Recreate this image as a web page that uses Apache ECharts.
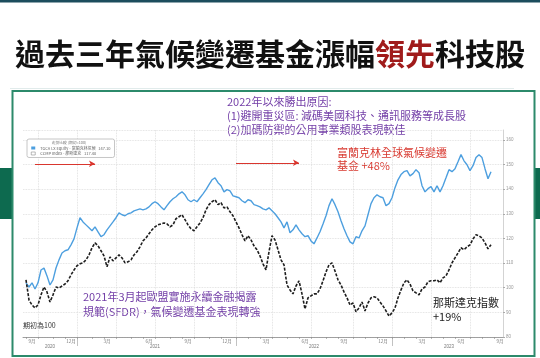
<!DOCTYPE html>
<html><head><meta charset="utf-8">
<script src="https://cdn.jsdelivr.net/npm/echarts@6/dist/echarts.min.js"></script>
<style>html,body{margin:0;padding:0;background:#fff}#c{width:540px;height:358px}</style>
</head><body><div id="c"></div>
<script>
// ---------- data ----------
const titleParts = ['過去三年氣候變遷基金漲幅', '領先', '科技股'];
const seriesNames = ['富蘭克林全球氣候變遷基金', '那斯達克指數'];
const legendLabels = ['TGCA LX Equity - 富蘭克林氣候', 'CCMP Index - 那斯達克'];
const legendHeader = '走勢比較 (期初=100)';
const firstWeek = '2020-08-28';   // first category (weekly)
const weekCount = 161;
// weekly index values, 2020-09-04 .. 2023-08-25
const climateFund = [
 102.0,100.3,102.0,99.5,102.0,107.2,108.0,104.8,101.1,103.2,108.0,111.3,114.1,115.0,115.4,117.4,119.8,124.3,128.4,126.7,
 125.5,124.3,123.1,124.7,122.7,120.7,121.5,123.5,125.1,126.7,128.4,130.4,129.6,129.2,130.0,130.4,131.2,131.6,132.0,131.6,
 132.0,132.8,134.1,134.9,134.1,132.8,131.6,133.3,134.9,136.1,136.9,138.1,138.9,137.7,135.7,134.9,135.7,134.9,136.5,138.1,
 139.8,141.8,143.8,144.6,142.6,141.4,138.9,139.8,139.3,137.3,136.9,136.5,135.3,134.5,135.7,135.3,133.7,133.3,132.8,132.0,
 131.6,132.4,131.2,130.0,128.4,126.7,124.3,126.7,122.3,123.5,125.5,123.5,121.9,120.7,121.1,119.0,117.8,120.2,122.7,125.9,
 129.2,133.3,136.1,133.7,130.8,127.2,123.9,121.1,118.6,117.8,120.7,120.2,123.1,125.1,129.6,134.1,136.5,137.7,136.9,136.5,
 133.3,134.1,136.5,140.6,143.8,145.9,147.1,147.5,145.4,146.3,147.9,146.7,141.4,138.9,140.2,141.0,138.9,141.4,138.9,141.4,
 144.6,147.9,147.1,148.3,151.1,154.0,151.5,149.9,147.5,149.5,152.8,154.0,152.8,148.3,144.2,147.1
];
const nasdaq = [
 103.2,95.0,93.0,91.8,93.0,97.1,100.3,98.3,94.2,97.1,100.3,99.9,100.7,101.5,102.8,105.2,107.2,108.9,109.7,110.1,
 111.3,113.3,116.2,118.2,117.0,115.0,112.9,108.5,112.5,110.9,112.1,113.3,112.1,110.1,110.5,111.3,113.3,114.6,116.6,119.0,
 120.2,121.9,123.5,124.7,125.5,125.9,126.3,125.9,124.7,125.5,128.0,128.8,129.6,127.6,125.5,123.9,123.1,124.7,126.3,128.4,
 131.6,133.7,134.9,135.7,133.7,134.5,132.4,132.8,130.8,129.2,126.7,124.3,121.5,119.0,121.1,119.4,117.0,115.4,112.9,109.7,
 107.2,114.6,121.1,119.4,115.4,111.3,109.3,101.1,99.1,97.5,100.7,102.8,97.5,91.4,95.9,96.7,97.5,97.5,99.5,102.8,
 106.4,109.3,110.1,106.8,103.2,101.1,98.3,95.9,93.0,93.8,90.2,91.8,94.2,90.6,93.8,95.9,96.3,95.9,94.2,92.6,
 90.6,88.5,89.8,91.8,95.9,99.1,102.0,103.2,101.5,98.7,97.9,97.1,99.5,100.3,102.4,102.8,102.8,103.2,102.0,104.0,
 104.8,107.2,110.1,112.1,114.1,116.2,115.4,116.6,117.4,119.8,121.5,121.1,120.2,118.2,115.8,117.4
];
const arrows = [
  {from: '2020-09-25', to: '2021-02-12', value: 150.3},
  {from: '2022-01-07', to: '2022-06-03', value: 150.7}
];
const noteReasons = ['2022年以來勝出原因:', '(1)避開重災區: 減碼美國科技、通訊服務等成長股', '(2)加碼防禦的公用事業類股表現較佳'];
const noteFund = ['富蘭克林全球氣候變遷', '基金 +48%'];
const noteSfdr = ['2021年3月起歐盟實施永續金融揭露', '規範(SFDR)，氣候變遷基金表現轉強'];
const noteNasdaq = ['那斯達克指數', '+19%'];
const noteBase = '期初為100';

// ---------- build ----------
const weeks = [];
(function(){ const p = firstWeek.split('-').map(Number); const t0 = Date.UTC(p[0], p[1]-1, p[2]);
  for (let i = 0; i < weekCount; i++) weeks.push(new Date(t0 + i*7*86400000).toISOString().slice(0,10)); })();
const mon = v => +v.slice(5,7), day = v => +v.slice(8,10);
function pad(arr){ const out = [null].concat(arr); while (out.length < weekCount) out.push(null); return out; }
const yearCenter = new Set();
(function(){ const m = {}; weeks.forEach((w,i)=>{ const y=w.slice(0,4); if(!(y in m)) m[y]=[i,i]; m[y][1]=i; });
  Object.values(m).forEach(r => yearCenter.add(Math.round((r[0]+r[1])/2))); })();

const CJK = '"Noto Sans CJK TC","Noto Sans CJK SC",sans-serif';
const blue = '#4d9fdf', black = '#1e1e1e';
const lastBlue = climateFund[climateFund.length-1], lastBlack = nasdaq[nasdaq.length-1];

function tag(v, color){ return {yAxis: v, lineStyle:{opacity:0}, symbol:'none',
  label:{show:true, position:'end', distance:1, formatter: v.toFixed(2), color:'#fff', backgroundColor: color,
    fontSize:4.5, padding:[1,2], fontFamily:'Roboto'}}; }
const arrowLines = arrows.map(a => [
  {coord:[a.from, a.value], symbol:'none', lineStyle:{color:'#d9362e', width:1.2, type:'solid', opacity:1}, label:{show:false}},
  {coord:[a.to, a.value], symbol:'arrow', symbolSize:[5,6]}
]);

const chart = echarts.init(document.getElementById('c'), null, {renderer:'canvas'});
chart.setOption({
  animation:false,
  backgroundColor:'#fff',
  grid:{left:23, right:37, top:130, bottom:21},
  legend:{
    left:27, top:139, orient:'vertical', itemGap:1.5, itemWidth:4, itemHeight:3,
    backgroundColor:'#fff', borderColor:'#b8b8b8', borderWidth:0.8, borderRadius:2, padding:[7,4,2,4],
    textStyle:{fontSize:4, color:'#666', fontFamily:CJK},
    formatter: n => legendLabels[seriesNames.indexOf(n)] + '   ' + (n===seriesNames[0]? lastBlue: lastBlack).toFixed(2),
    data:[{name:seriesNames[0], icon:'rect'}, {name:seriesNames[1], icon:'rect', itemStyle:{color:'#fff', borderColor:'#777', borderWidth:0.5}}],
    selectedMode:false
  },
  xAxis:[{
    type:'category', data:weeks, boundaryGap:false,
    axisLine:{lineStyle:{color:'#8a8a8a', width:0.8}},
    axisTick:{interval:(i,v)=>day(v)<=7, length:2, lineStyle:{color:'#8a8a8a', width:0.6}},
    axisLabel:{interval:(i,v)=>[3,6,9,12].includes(mon(v)) && day(v)>=12 && day(v)<=18,
      formatter:v=>mon(v)+'月', fontSize:4.5, color:'#777', margin:2, fontFamily:CJK},
    splitLine:{show:true, interval:(i,v)=>[1,4,7,10].includes(mon(v)) && day(v)<=7,
      lineStyle:{color:'#d9d9d9', type:'dotted', width:0.8}}
  },{
    type:'category', data:weeks, boundaryGap:false, position:'bottom',
    axisLine:{show:false},
    axisTick:{show:true, interval:(i,v)=>mon(v)===1 && day(v)<=7, length:9, lineStyle:{color:'#999', width:0.6}},
    axisLabel:{interval:(i)=>yearCenter.has(i), formatter:v=>v.slice(0,4), fontSize:4.5, color:'#777', margin:7},
    splitLine:{show:false}
  }],
  yAxis:{
    type:'value', position:'right', min:80, max:164, interval:10,
    axisLine:{show:true, lineStyle:{color:'#c8c8c8', width:0.8}},
    axisTick:{show:true, length:2, lineStyle:{color:'#aaa'}},
    axisLabel:{fontSize:4.5, color:'#999', margin:3, showMaxLabel:false},
    splitLine:{lineStyle:{color:'#d9d9d9', type:'dotted', width:0.8}}
  },
  series:[{
    name:seriesNames[0], type:'line', data:pad(climateFund), showSymbol:false, z:3,
    lineStyle:{color:blue, width:1.4}, itemStyle:{color:blue},
    markLine:{silent:true, symbol:'none', data:[tag(lastBlue, '#2f7fce')].concat(arrowLines)}
  },{
    name:seriesNames[1], type:'line', data:pad(nasdaq), showSymbol:false, z:4,
    lineStyle:{color:black, width:1.6, type:[3,1.5]}, itemStyle:{color:black},
    markLine:{silent:true, symbol:'none', data:[tag(lastBlack, '#222')]}
  }],
  graphic:[
    {type:'rect', shape:{x:0,y:0,width:540,height:2.5}, style:{fill:'#1c4d5d'}, silent:true},
    {type:'line', shape:{x1:10,y1:88.5,x2:514,y2:88.5}, style:{stroke:'#e1ebeb', lineWidth:1}, silent:true},
    {type:'rect', shape:{x:0,y:168,width:13,height:51}, style:{fill:'#0d6a4f'}, silent:true},
    {type:'rect', shape:{x:535,y:168,width:5,height:51}, style:{fill:'#0d6a4f'}, silent:true},
    {type:'rect', shape:{x:12.5,y:91,width:522,height:265}, style:{fill:'none', stroke:'#2c8a6b', lineWidth:2}, silent:true, z:10},
    {type:'text', x:270, y:54, silent:true, style:{
      text:'{a|'+titleParts[0]+'}{b|'+titleParts[1]+'}{a|'+titleParts[2]+'}',
      align:'center', verticalAlign:'middle',
      rich:{a:{fontSize:30, fontWeight:'bold', fill:'#111', fontFamily:CJK},
            b:{fontSize:30, fontWeight:'bold', fill:'#a01b1b', fontFamily:CJK}}}},
    {type:'text', x:69, y:142.5, silent:true, z:20, style:{text:legendHeader, fontSize:3.8, fill:'#777', align:'center', verticalAlign:'middle', fontFamily:CJK}},
    {type:'text', x:227, y:95, silent:true, style:{text:noteReasons.join('\n'), fontSize:11, lineHeight:14, fill:'#7440a8', fontFamily:CJK}},
    {type:'text', x:337, y:147, silent:true, style:{text:noteFund.join('\n'), fontSize:11, lineHeight:12.5, fill:'#d8382f', fontFamily:CJK}},
    {type:'text', x:83, y:289, silent:true, style:{text:noteSfdr.join('\n'), fontSize:11, lineHeight:15, fill:'#7440a8', fontFamily:CJK}},
    {type:'text', x:433, y:296.5, silent:true, style:{text:noteNasdaq.join('\n'), fontSize:11, lineHeight:13.5, fill:'#222', fontFamily:CJK}},
    {type:'text', x:23, y:325, silent:true, style:{text:noteBase, fontSize:7, fill:'#333', verticalAlign:'middle', fontFamily:CJK}}
  ]
});
</script></body></html>
